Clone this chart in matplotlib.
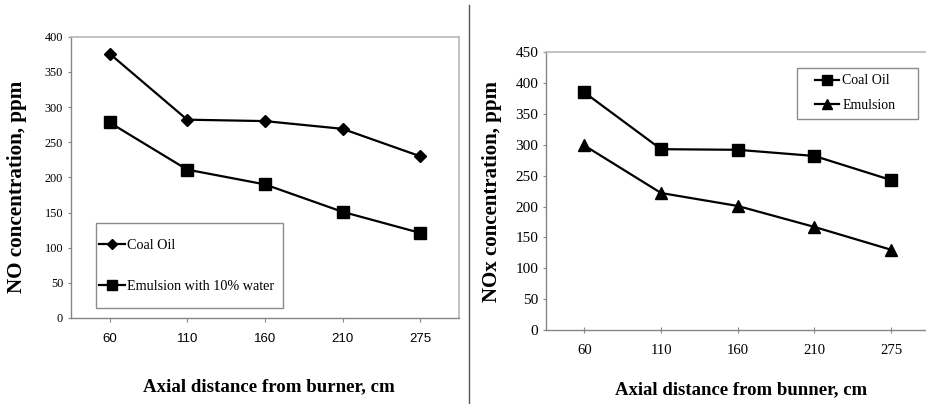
import matplotlib
matplotlib.use("Agg")
import matplotlib.pyplot as plt
from matplotlib.patches import Rectangle
from matplotlib.lines import Line2D

# ---- data ----
categories = ["60", "110", "160", "210", "275"]
no_coal_oil = [376, 282, 280, 269, 230]
no_emulsion = [278, 211, 190, 151, 121]
nox_coal_oil = [385, 293, 292, 282, 243]
nox_emulsion = [299, 222, 201, 167, 130]

left_series_labels = ["Coal Oil", "Emulsion with 10% water"]
right_series_labels = ["Coal Oil", "Emulsion"]
left_yticks = [0, 50, 100, 150, 200, 250, 300, 350, 400]
right_yticks = [0, 50, 100, 150, 200, 250, 300, 350, 400, 450]

SERIF = ["Liberation Serif", "DejaVu Serif"]
SANS = ["Liberation Sans", "DejaVu Sans"]

W, H = 926, 404
fig = plt.figure(figsize=(W / 100, H / 100), dpi=100)


def fx(px):
    return px / W


def fy(py):
    return 1 - py / H


FRAME = "#b8b8b8"
AXIS = "#868686"

# ---------------- left panel ----------------
axL = fig.add_axes([fx(70.7), fy(318), fx(459) - fx(70.7), fy(36.7) - fy(318)])
x = list(range(len(categories)))
axL.plot(x, no_coal_oil, color="black", lw=1.6, marker="D", ms=6, mfc="black", mec="black")
axL.plot(x, no_emulsion, color="black", lw=1.6, marker="s", ms=8.5, mfc="black", mec="black")
axL.set_xlim(-0.5, len(categories) - 0.5)
axL.set_ylim(0, 400)
axL.set_yticks(left_yticks)
axL.set_yticklabels([str(v) for v in left_yticks], fontfamily=SERIF, fontsize=8.8)
axL.set_xticks(x)
axL.set_xticklabels(categories, fontfamily=SANS, fontsize=9.5)
axL.tick_params(axis="y", direction="out", length=2.5, width=0.8, color=AXIS, pad=3)
axL.tick_params(axis="x", direction="out", length=3, width=0.8, color=AXIS, pad=8)
for s in ["top", "right"]:
    axL.spines[s].set_color(FRAME)
    axL.spines[s].set_linewidth(1.2)
for s in ["left", "bottom"]:
    axL.spines[s].set_color(AXIS)
    axL.spines[s].set_linewidth(1.0)

fig.text(fx(17), fy(187), "NO concentration, ppm", rotation=90, ha="center", va="center",
         fontfamily=SERIF, fontweight="bold", fontsize=15.2)
fig.text(fx(269), fy(387), "Axial distance from burner, cm", ha="center", va="center",
         fontfamily=SERIF, fontweight="bold", fontsize=13.6)

# left legend box
fig.patches.append(Rectangle((fx(96), fy(308.3)), fx(282.7) - fx(96), fy(222.7) - fy(308.3),
                             transform=fig.transFigure, fill=False, edgecolor="#8c8c8c", lw=1.0))
hL = [Line2D([], [], color="black", lw=1.6, marker="D", ms=5, mfc="black"),
      Line2D([], [], color="black", lw=1.6, marker="s", ms=7, mfc="black")]
legL = fig.legend(hL, left_series_labels, loc="center left",
                  bbox_to_anchor=(fx(99), fy((245 + 286.7) / 2)), bbox_transform=fig.transFigure,
                  frameon=False, borderpad=0, borderaxespad=0, handlelength=1.8,
                  handletextpad=0.15, labelspacing=1.95, prop={"family": SERIF, "size": 10.2})

# ---------------- right panel ----------------
axR = fig.add_axes([fx(546), fy(330), fx(546 + 5 * 76.7) - fx(546), fy(52.3) - fy(330)])
axR.plot(x, nox_coal_oil, color="black", lw=1.6, marker="s", ms=8, mfc="black", mec="black")
axR.plot(x, nox_emulsion, color="black", lw=1.6, marker="^", ms=8, mfc="black", mec="black")
axR.set_xlim(-0.5, len(categories) - 0.5)
axR.set_ylim(0, 450)
axR.set_yticks(right_yticks)
axR.set_yticklabels([str(v) for v in right_yticks], fontfamily=SERIF, fontsize=11)
axR.set_xticks(x)
axR.set_xticklabels(categories, fontfamily=SERIF, fontsize=10.6)
axR.tick_params(axis="y", direction="out", length=2.5, width=0.8, color=AXIS, pad=3)
axR.tick_params(axis="x", direction="inout", length=4, width=0.8, color=AXIS, pad=8)
for s in ["top", "right"]:
    axR.spines[s].set_color(FRAME)
    axR.spines[s].set_linewidth(1.2)
for s in ["left", "bottom"]:
    axR.spines[s].set_color(AXIS)
    axR.spines[s].set_linewidth(1.0)

fig.text(fx(491.7), fy(192), "NOx concentration, ppm", rotation=90, ha="center", va="center",
         fontfamily=SERIF, fontweight="bold", fontsize=15)
fig.text(fx(741), fy(390), "Axial distance from bunner, cm", ha="center", va="center",
         fontfamily=SERIF, fontweight="bold", fontsize=13.5)

fig.patches.append(Rectangle((fx(796.7), fy(119.3)), fx(918.3) - fx(796.7), fy(67.7) - fy(119.3),
                             transform=fig.transFigure, fill=False, edgecolor="#8c8c8c", lw=1.0))
hR = [Line2D([], [], color="black", lw=1.6, marker="s", ms=6.5, mfc="black"),
      Line2D([], [], color="black", lw=1.6, marker="^", ms=6.5, mfc="black")]
legR = fig.legend(hR, right_series_labels, loc="center left",
                  bbox_to_anchor=(fx(815), fy((80 + 106.7) / 2)), bbox_transform=fig.transFigure,
                  frameon=False, borderpad=0, borderaxespad=0, handlelength=1.75,
                  handletextpad=0.2, labelspacing=0.85, prop={"family": SERIF, "size": 10})

# separator line
fig.add_artist(Line2D([fx(469.3), fx(469.3)], [fy(5), fy(404)], transform=fig.transFigure,
                      color="#555555", lw=1.0))

fig.savefig("out.png", dpi=100, facecolor="white")
